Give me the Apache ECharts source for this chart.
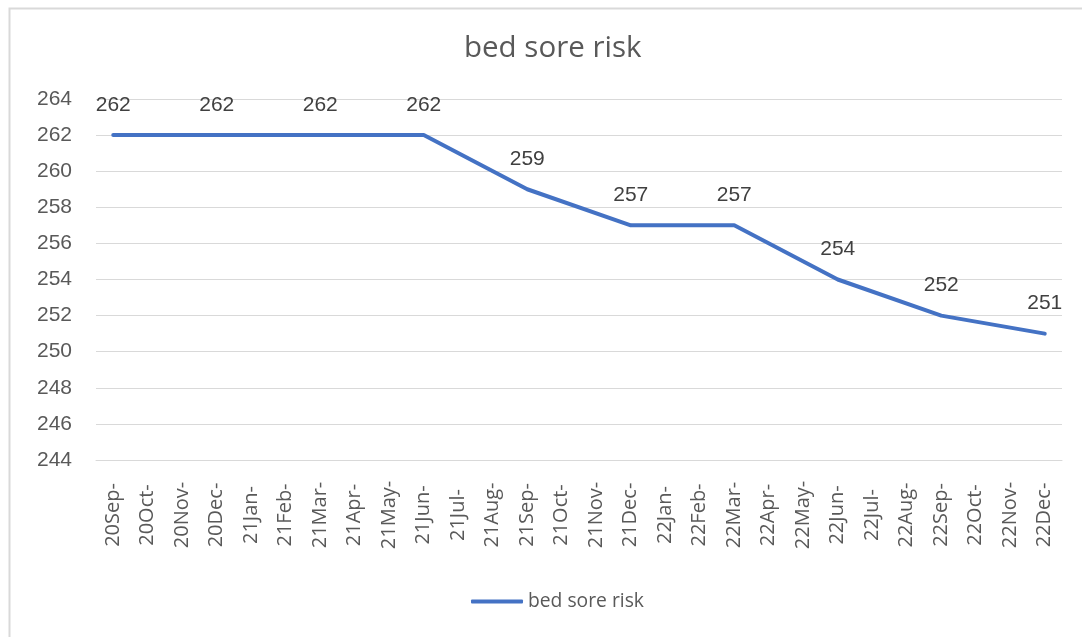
<!DOCTYPE html>
<html>
<head>
<meta charset="utf-8">
<script src="https://cdn.jsdelivr.net/npm/echarts@6/dist/echarts.min.js"></script>
<style>
html,body{margin:0;padding:0;background:#fff;}
#chart{width:1082px;height:637px;}
</style>
</head>
<body>
<div id="chart"></div>
<script>
const categories = ["20Sep-","20Oct-","20Nov-","20Dec-","21Jan-","21Feb-","21Mar-","21Apr-","21May-","21Jun-","21Jul-","21Aug-","21Sep-","21Oct-","21Nov-","21Dec-","22Jan-","22Feb-","22Mar-","22Apr-","22May-","22Jun-","22Jul-","22Aug-","22Sep-","22Oct-","22Nov-","22Dec-"];
const values = [262,null,null,262,null,null,262,null,null,262,null,null,259,null,null,257,null,null,257,null,null,254,null,null,252,null,null,251];
const seriesName = "bed sore risk";
const titleText = "bed sore risk";
const yMin = 244, yMax = 264, yStep = 2;

const chart = echarts.init(document.getElementById('chart'));
chart.setOption({
  backgroundColor: '#fff',
  animation: false,
  graphic: [{
    type: 'rect', left: 7, top: 6,
    shape: {width: 1200, height: 1200},
    style: {fill: 'none', stroke: '#d9d9d9', lineWidth: 2}
  }],
  title: {
    text: titleText, left: 459, top: 29,
    textStyle: {fontFamily: 'Open Sans', fontSize: 29.5, fontWeight: 'normal', color: '#595959'}
  },
  legend: {
    data: [seriesName], bottom: 21, left: 466,
    itemWidth: 52, itemHeight: 4, itemGap: 7,
    icon: 'roundRect',
    textStyle: {fontFamily: 'Open Sans', fontSize: 19.3, color: '#595959'}
  },
  grid: {left: 96, right: 20, top: 99, bottom: 177, containLabel: false},
  xAxis: {
    type: 'category', data: categories, boundaryGap: true,
    axisLine: {show: true, lineStyle: {color: '#d9d9d9', width: 1}},
    axisTick: {show: false},
    axisLabel: {
      rotate: 90, margin: 55, interval: 0, align: 'center', verticalAlign: 'middle',
      fontFamily: 'Open Sans', fontSize: 20, color: '#595959'
    }
  },
  yAxis: {
    type: 'value', min: yMin, max: yMax, interval: yStep,
    axisLine: {show: false}, axisTick: {show: false},
    axisLabel: {margin: 24, fontFamily: 'Liberation Sans', fontSize: 21, color: '#595959'},
    splitLine: {lineStyle: {color: '#d9d9d9', width: 1}}
  },
  series: [{
    name: seriesName, type: 'line', data: values, connectNulls: true,
    symbol: 'circle', symbolSize: 1, showSymbol: true,
    lineStyle: {color: '#4472C4', width: 4, cap: 'round', join: 'round'},
    itemStyle: {color: '#4472C4'},
    label: {show: true, position: 'top', distance: 19, fontFamily: 'Liberation Sans', fontSize: 21, color: '#404040'}
  }]
});
</script>
</body>
</html>
